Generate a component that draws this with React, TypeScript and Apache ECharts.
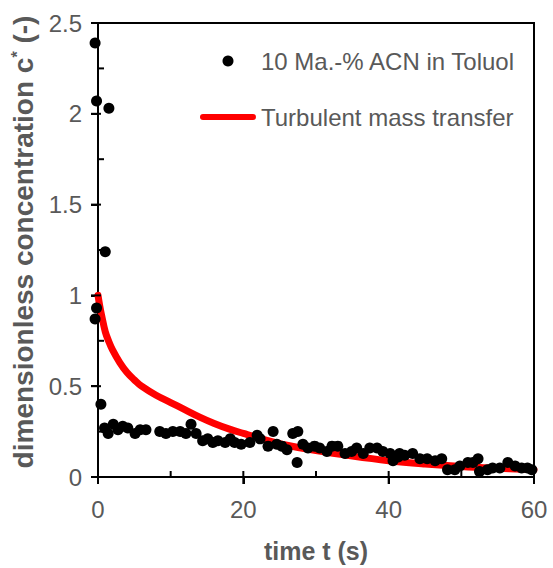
import React, { useEffect, useRef } from "react";
import * as echarts from "echarts";

const scatterName = "10 Ma.-% ACN in Toluol";
const lineName = "Turbulent mass transfer";

const measuredT = [
  -0.4, -0.2, 1.5, 1.0, -0.2, -0.4, 0.4,
  0.9, 1.4, 2.1, 2.75, 3.4, 4.1, 5.1, 5.8, 6.6, 8.5, 9.35, 10.3, 11.3, 12.1, 12.8, 13.5,
  14.4, 15.1, 15.8, 16.5, 17.5, 18.2, 18.8, 19.7, 20.9, 21.9, 22.3, 23.4, 24.1, 24.6,
  25.3, 26.0, 26.8, 27.5, 27.4, 28.2, 28.9, 29.8, 30.5, 31.5, 32.2, 33.0, 34.0, 34.9,
  35.6, 36.5, 37.4, 38.4, 39.2, 40.2, 40.6, 41.3, 41.5, 42.2, 43.3, 44.3, 45.3, 46.4,
  47.3, 48.1, 49.1, 49.8, 50.9, 51.6, 52.3, 52.5, 53.6, 54.3, 55.3, 56.4, 57.4, 58.3,
  59.1, 59.7,
];
const measuredC = [
  2.39, 2.07, 2.03, 1.24, 0.93, 0.87, 0.40,
  0.27, 0.24, 0.29, 0.26, 0.28, 0.27, 0.24, 0.26, 0.26, 0.25, 0.24, 0.25, 0.25, 0.24, 0.29, 0.24,
  0.20, 0.21, 0.19, 0.20, 0.19, 0.21, 0.19, 0.18, 0.19, 0.23, 0.21, 0.17, 0.25, 0.18,
  0.17, 0.15, 0.24, 0.25, 0.08, 0.18, 0.16, 0.17, 0.16, 0.14, 0.17, 0.17, 0.13, 0.14,
  0.16, 0.13, 0.16, 0.16, 0.14, 0.13, 0.09, 0.11, 0.13, 0.12, 0.13, 0.10, 0.10, 0.09,
  0.10, 0.04, 0.04, 0.06, 0.08, 0.08, 0.10, 0.03, 0.04, 0.05, 0.05, 0.08, 0.06, 0.05,
  0.05, 0.04,
];

const modelT = [0, 0.25, 0.5, 1, 1.5, 2, 3, 4, 5, 6, 8, 10, 12, 14, 16, 18, 20, 23, 26, 30, 35, 40, 45, 50, 55, 60];
const modelC = [1.0, 0.94, 0.89, 0.8, 0.745, 0.7, 0.63, 0.575, 0.535, 0.5, 0.45, 0.41, 0.37, 0.33, 0.295, 0.265, 0.24, 0.205, 0.175, 0.145, 0.115, 0.09, 0.072, 0.058, 0.048, 0.04];

const xMajorTicks = [0, 20, 40, 60];
const xMinorTicks = [10, 30, 50];
const yMajorTicks = [0, 0.5, 1, 1.5, 2, 2.5];
const yMinorTicks = [0.25, 0.75, 1.25, 1.75, 2.25];

const xTitle = "time t (s)";
const yTitle = "dimensionless concentration c{sup|*} (-)";

const FONT = "'Liberation Sans', Arial, sans-serif";
const GRAY = "#595959";

export default function App() {
  const ref = useRef<HTMLDivElement>(null);
  useEffect(() => {
    if (!ref.current) return;
    const chart = echarts.init(ref.current, undefined, { renderer: "svg" });
    chart.setOption({
      animation: false,
      textStyle: { fontFamily: FONT },
      grid: {
        left: 98,
        right: 19,
        top: 23,
        bottom: 82,
        show: true,
        borderColor: "#000",
        borderWidth: 2,
        backgroundColor: "transparent",
      },
      legend: {
        orient: "vertical",
        left: 195,
        top: 44,
        itemWidth: 56,
        itemHeight: 11,
        itemGap: 32,
        data: [
          { name: scatterName, icon: "circle" },
          {
            name: lineName,
            icon: "path://M3,0 H53 A3,3 0 0 1 53,6 H3 A3,3 0 0 1 3,0 Z",
            itemStyle: { color: "#ff0000" },
          },
        ],
        textStyle: { fontSize: 24, color: GRAY, fontFamily: FONT, lineHeight: 24 },
      },
      xAxis: {
        type: "value",
        min: 0,
        max: 60,
        interval: 20,
        splitLine: { show: false },
        name: xTitle,
        nameLocation: "middle",
        nameGap: 61,
        nameTextStyle: { fontSize: 25, fontWeight: "bold", color: GRAY, fontFamily: FONT },
        axisLine: { show: true, onZero: false, lineStyle: { color: "#000", width: 2 } },
        axisTick: { show: true, inside: false, length: 7, lineStyle: { color: "#000", width: 2 } },
        minorTick: { show: false },
        axisLabel: { fontSize: 24, color: GRAY, margin: 20, fontFamily: FONT },
      },
      yAxis: {
        type: "value",
        min: 0,
        max: 2.5,
        interval: 0.5,
        splitLine: { show: false },
        name: yTitle,
        nameLocation: "middle",
        nameGap: 56,
        nameTextStyle: {
          fontSize: 28,
          fontWeight: "bold",
          color: GRAY,
          fontFamily: FONT,
          padding: [0, 0, 0, 16],
          rich: {
            sup: { fontSize: 16, fontWeight: "bold", color: GRAY, fontFamily: FONT, verticalAlign: "top" },
          },
        },
        axisLine: { show: true, onZero: false, lineStyle: { color: "#000", width: 2 } },
        axisTick: { show: true, inside: false, length: 7, lineStyle: { color: "#000", width: 2 } },
        minorTick: { show: false },
        axisLabel: { fontSize: 24, color: GRAY, margin: 16, fontFamily: FONT },
      },
      series: [
        {
          name: lineName,
          type: "line",
          data: modelT.map((t, i) => [t, modelC[i]]),
          smooth: 0.4,
          showSymbol: false,
          symbol: "none",
          lineStyle: { color: "#ff0000", width: 7, cap: "round" },
          itemStyle: { color: "#ff0000" },
          z: 2,
        },
        {
          name: scatterName,
          type: "scatter",
          clip: false,
          data: measuredT.map((t, i) => [t, measuredC[i]]),
          symbol: "circle",
          symbolSize: 11,
          itemStyle: { color: "#000", opacity: 1 },
          z: 3,
        },
      ],
    });

    // inner halves of major ticks and inward minor ticks, placed through the axes' scales
    const finder = { xAxisIndex: 0, yAxisIndex: 0 };
    const toPx = (pt: number[]) => chart.convertToPixel(finder, pt) as number[];
    const els: any[] = [];
    const addRect = (x: number, y: number, w: number, h: number) =>
      els.push({ type: "rect", z: 100, silent: true, shape: { x, y, width: w, height: h }, style: { fill: "#000" } });
    xMajorTicks.forEach((v) => {
      const p = toPx([v, 0]);
      addRect(p[0] - 1, p[1] - 6, 2, 13);
    });
    xMinorTicks.forEach((v) => {
      const p = toPx([v, 0]);
      addRect(p[0] - 1, p[1] - 6, 2, 6);
    });
    yMajorTicks.forEach((v) => {
      const p = toPx([0, v]);
      addRect(p[0] - 7, p[1] - 1, 10, 2);
    });
    yMinorTicks.forEach((v) => {
      const p = toPx([0, v]);
      addRect(p[0], p[1] - 1, 6, 2);
    });
    chart.setOption({ graphic: { elements: els } });

    return () => chart.dispose();
  }, []);
  return (
    <div
      ref={ref}
      style={{ position: "fixed", left: 0, top: 0, width: 553, height: 568, background: "#fff" }}
    />
  );
}
